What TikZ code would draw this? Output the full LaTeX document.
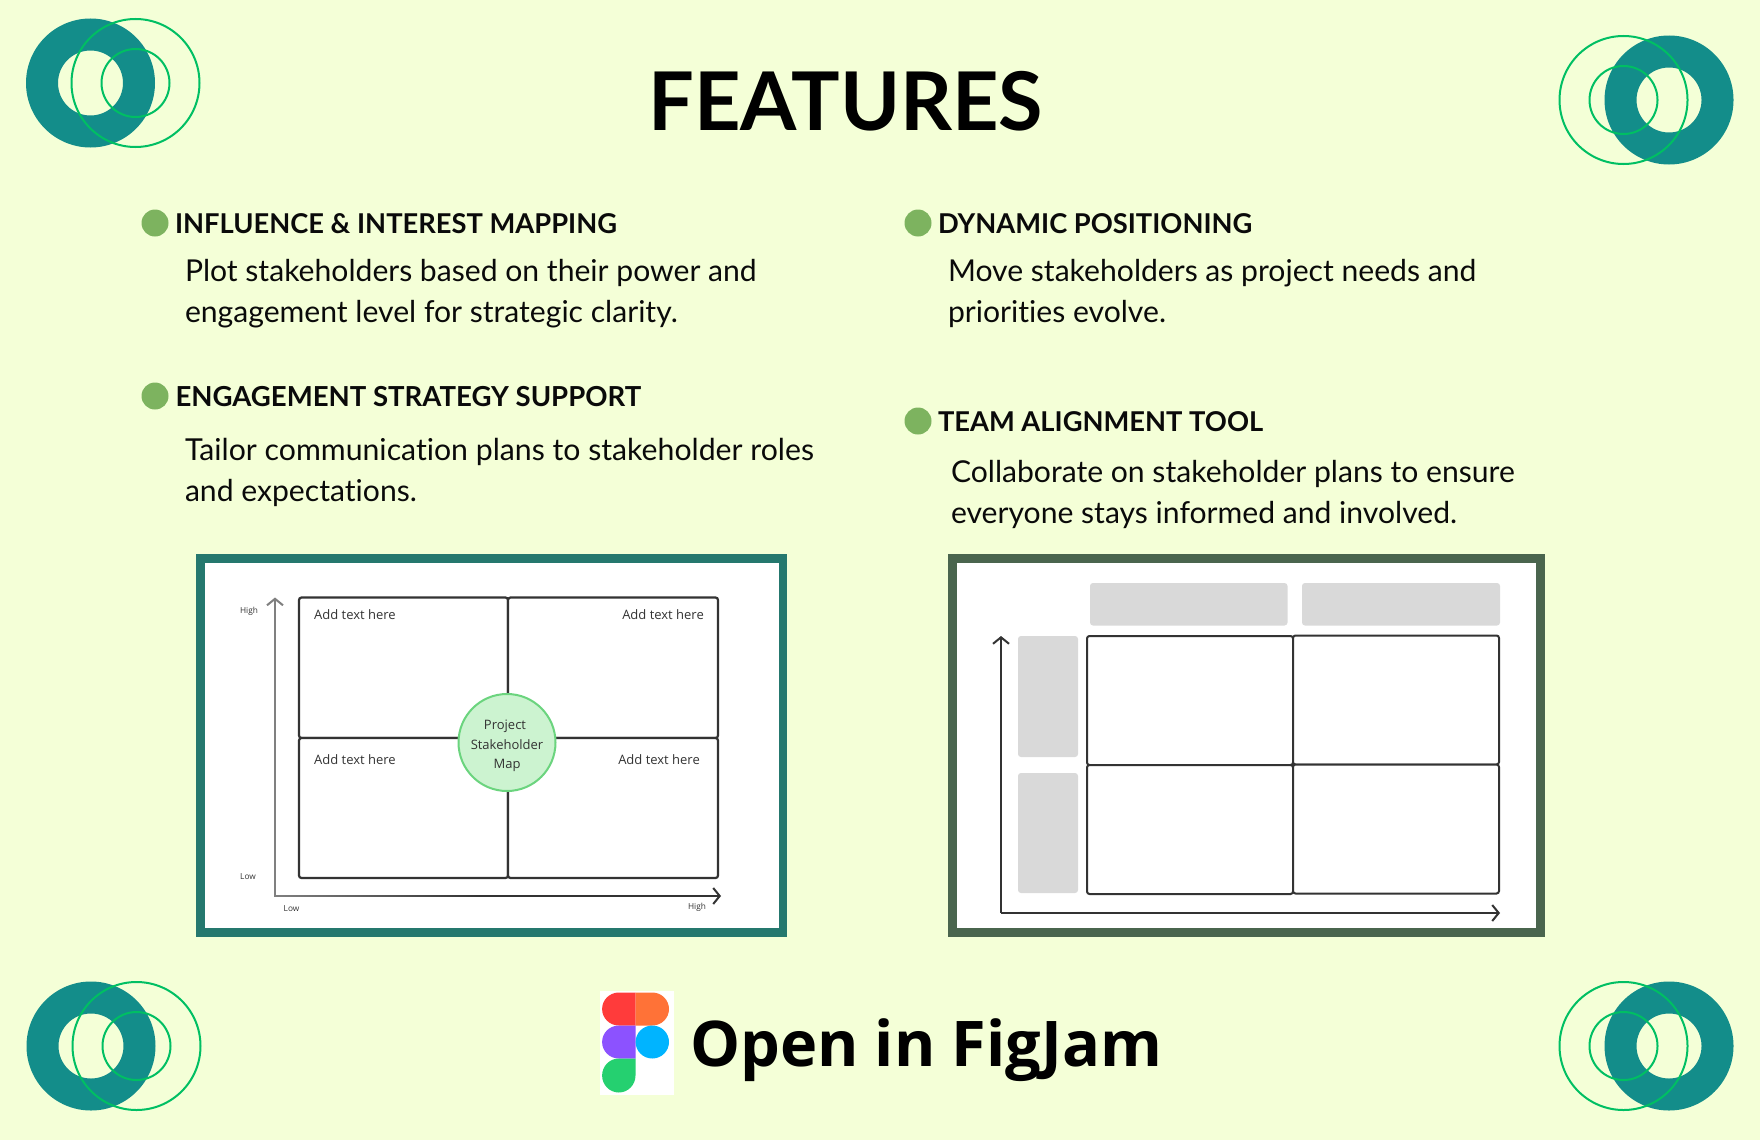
\documentclass[tikz,border=0pt]{standalone}
\usepackage{fontspec}
\setmainfont[RawFeature={-liga}]{Lato}
\newfontfamily\uifont{Open Sans}
\newfontfamily\ctafont{Open Sans}
\usetikzlibrary{arrows.meta}
\definecolor{bgc}{HTML}{F4FFD7}
\definecolor{tealc}{HTML}{138D8A}
\definecolor{ringg}{HTML}{00BF63}
\definecolor{dotc}{HTML}{7DB35F}
\definecolor{frameA}{HTML}{25786E}
\definecolor{frameB}{HTML}{4A654E}
\definecolor{centerf}{HTML}{CCF3D0}
\definecolor{centerd}{HTML}{6BD47E}
\definecolor{greyc}{HTML}{D9D9D9}
\definecolor{inkc}{HTML}{333333}
\definecolor{txtc}{HTML}{0A0A0A}
\definecolor{figred}{HTML}{FF3B3B}
\definecolor{figorange}{HTML}{FF7237}
\definecolor{figpurple}{HTML}{8C52FF}
\definecolor{figblue}{HTML}{00B4FF}
\definecolor{figgreen}{HTML}{25D070}
\tikzset{
  x=1pt,y=-1pt,
  txt/.style={inner sep=0pt,outer sep=0pt,anchor=base west,text=txtc},
  headtxt/.style={txt,font=\fontsize{27.3}{27.3}\selectfont\bfseries},
  bodytxt/.style={txt,font=\fontsize{30.12}{30}\selectfont},
  bullet/.style={circle,fill=dotc,minimum size=27pt,inner sep=0pt},
  cell/.style={draw=inkc,line width=2.2pt,rounded corners=2.5pt,fill=white},
  cellb/.style={draw=inkc,line width=2pt,rounded corners=2.5pt,fill=white},
  grey/.style={fill=greyc,rounded corners=3pt},
  axis/.style={line width=2pt,-{Straight Barb[length=6.5pt,width=16pt,line width=2pt]}},
  small/.style={inner sep=0pt,font=\uifont\fontsize{8.3}{8.3}\selectfont,text=inkc},
  addt/.style={inner sep=0pt,font=\uifont\fontsize{13}{13}\selectfont,text=inkc},
  ringt/.style={draw=ringg,line width=2pt,fill=none},
}
\newcommand{\ornament}[5]{%
  \path[fill=tealc,even odd rule] (#2,#3) circle[radius=64.5] (#2,#3) circle[radius=32.5];
  \node[ringt,circle,minimum size=128pt,inner sep=0pt] (#1o) at (#4,#5) {};
  \node[ringt,circle,minimum size=68pt,inner sep=0pt] (#1i) at (#4,#5) {};
}
\begin{document}
\begin{tikzpicture}
\useasboundingbox (0,0) rectangle (1760,1140);
\fill[bgc] (0,0) rectangle (1760,1140);

\ornament{tl}{90.5}{83}{135.5}{83}
\ornament{tr}{1669}{100}{1623.5}{100}
\ornament{bl}{91}{1046}{136.5}{1046}
\ornament{br}{1669}{1046}{1623.5}{1046}

\node[txt,font=\fontsize{81}{81}\selectfont\bfseries,text=black] (title) at (648.5,130.5) {FEATURES};

\node[bullet] (d1) at (155,223) {};
\node[headtxt] (h1) at (175,233) {INFLUENCE \& INTEREST MAPPING};
\node[bodytxt] (b1a) at (185,281) {Plot stakeholders based on their power and};
\node[bodytxt] (b1b) at (185,322) {engagement level for strategic clarity.};

\node[bullet] (d2) at (155,396) {};
\node[headtxt,font=\fontsize{27.55}{27.55}\selectfont\bfseries] (h2) at (175.5,406) {ENGAGEMENT STRATEGY SUPPORT};
\node[bodytxt,font=\fontsize{30.22}{30}\selectfont] (b2a) at (185,460) {Tailor communication plans to stakeholder roles};
\node[bodytxt] (b2b) at (185,501) {and expectations.};

\node[bullet] (d3) at (918,223) {};
\node[headtxt] (h3) at (938,233) {DYNAMIC POSITIONING};
\node[bodytxt] (b3a) at (948,281) {Move stakeholders as project needs and};
\node[bodytxt] (b3b) at (948,322) {priorities evolve.};

\node[bullet] (d4) at (918,421) {};
\node[headtxt] (h4) at (938,431) {TEAM ALIGNMENT TOOL};
\node[bodytxt] (b4a) at (951,482) {Collaborate on stakeholder plans to ensure};
\node[bodytxt] (b4b) at (951,523) {everyone stays informed and involved.};

% Map A
\fill[frameA] (196,553.5) rectangle (787,936.5);
\fill[white] (205,562.5) rectangle (779,927.5);
\path[cell] (299,597.5) rectangle (508,738);
\path[cell] (508,597.5) rectangle (718,738);
\path[cell] (299,738) rectangle (508,878);
\path[cell] (508,738) rectangle (718,878);
\coordinate (ya0) at (275,896);
\coordinate (ya1) at (275,597.5);
\coordinate (xa1) at (721,896);
\draw[axis,draw=gray] (ya0) -- (ya1);
\draw[axis,draw=inkc] (ya0) -- (xa1);
\shade[left color=gray,right color=inkc] (274,895.3) rectangle (480,896.7);
\node[small] (la1) at (249,611) {High};
\node[small] (la2) at (248,877) {Low};
\node[small] (la3) at (291.5,909) {Low};
\node[small] (la4) at (697,907) {High};
\node[addt,anchor=west] (ta1) at (314,615) {Add text here};
\node[addt,anchor=east] (ta2) at (704,615) {Add text here};
\node[addt,anchor=west] (ta3) at (314,760) {Add text here};
\node[addt,anchor=east] (ta4) at (700,760) {Add text here};
\node[circle,draw=centerd,fill=centerf,line width=2pt,minimum size=97pt,inner sep=0pt] (ctr) at (507,742.5) {};
\node[addt] (c1) at (505,726) {Project};
\node[addt] (c2) at (507,745) {Stakeholder};
\node[addt] (c3) at (507,765) {Map};

% Map B
\fill[frameB] (948,553.5) rectangle (1545,936.5);
\fill[white] (957,562.5) rectangle (1536,927.5);
\path[grey] (1090,583) rectangle (1287.5,625.5);
\path[grey] (1302,583) rectangle (1500,625.5);
\path[grey] (1018,636) rectangle (1078,757);
\path[grey] (1018,773) rectangle (1078,893);
\path[cellb] (1087,636) rectangle (1293,765);
\path[cellb] (1293,635.5) rectangle (1499,764.5);
\path[cellb] (1087,765) rectangle (1293,894);
\path[cellb] (1293,764.5) rectangle (1499,893.5);
\coordinate (yb0) at (1001,913);
\coordinate (yb1) at (1001,636);
\coordinate (xb1) at (1500,913);
\draw[axis,draw=inkc] (yb0) -- (yb1);
\draw[axis,draw=inkc] (yb0) -- (xb1);

% Figma logo
\fill[white] (600,990.5) rectangle (674,1094.5);
\path[fill=figred] (635.5,992.5) -- (618.8,992.5) arc[start angle=270,end angle=90,x radius=16.7,y radius=16.5] -- (635.5,1025.5) -- cycle;
\path[fill=figorange] (635.5,992.5) -- (652.3,992.5) arc[start angle=-90,end angle=90,x radius=16.7,y radius=16.5] -- (635.5,1025.5) -- cycle;
\path[fill=figpurple] (635.5,1025.5) -- (618.8,1025.5) arc[start angle=270,end angle=90,x radius=16.7,y radius=16.5] -- (635.5,1058.5) -- cycle;
\fill[figblue] (652.3,1042) ellipse[x radius=16.7,y radius=16.5];
\path[fill=figgreen] (635.5,1058.5) -- (618.8,1058.5) arc[start angle=270,end angle=180,x radius=16.7,y radius=17] arc[start angle=180,end angle=0,x radius=16.7,y radius=17] -- cycle;

\node[txt,font=\ctafont\fontsize{63}{63}\selectfont\bfseries,text=black] (cta) at (690,1066.5) {Open in FigJam};
\end{tikzpicture}
\end{document}
